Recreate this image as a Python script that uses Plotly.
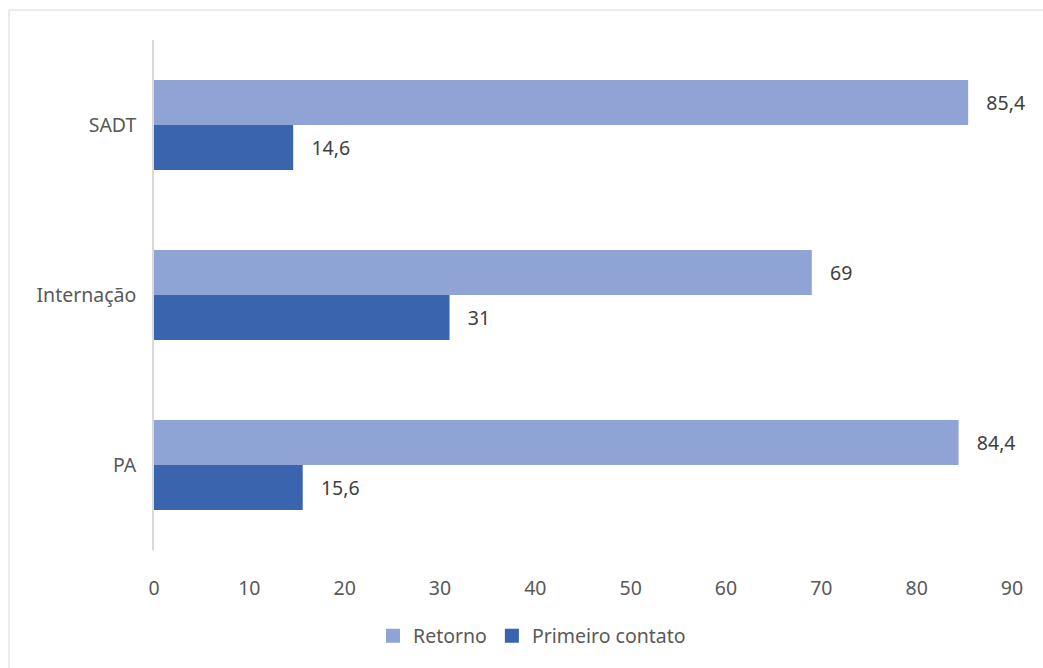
import plotly.graph_objects as go

categories = ["PA", "Internação", "SADT"]
retorno = [84.4, 69, 85.4]
primeiro_contato = [15.6, 31, 14.6]
x_ticks = [0, 10, 20, 30, 40, 50, 60, 70, 80, 90]

FONT = "Noto Sans, Open Sans, sans-serif"
TXT = "#595959"
C_RET = "#8FA4D5"
C_PRI = "#3A64AD"
FS = 19.5

fig = go.Figure()
fig.add_trace(go.Bar(
    y=categories, x=primeiro_contato, orientation="h", name="Primeiro contato",
    marker=dict(color=C_PRI, line=dict(width=0)), showlegend=False,
    texttemplate="   %{x}", textposition="outside",
    textfont=dict(size=FS, color="#404040", family=FONT), cliponaxis=False,
))
fig.add_trace(go.Bar(
    y=categories, x=retorno, orientation="h", name="Retorno",
    marker=dict(color=C_RET, line=dict(width=0)), showlegend=False,
    texttemplate="   %{x}", textposition="outside",
    textfont=dict(size=FS, color="#404040", family=FONT), cliponaxis=False,
))

# legend swatches as square markers
for name, col in [("Retorno", C_RET), ("Primeiro contato", C_PRI)]:
    fig.add_trace(go.Scatter(
        x=[None], y=[None], mode="markers", name=name,
        marker=dict(symbol="square", size=14, color=col, line=dict(width=0)),
        showlegend=True,
    ))

W, H = 1043, 668
L, R, T, B = 154, 31, 40, 118
pw, ph = W - L - R, H - T - B

def px_x(p):
    return (p - L) / pw

def px_y(p):
    return (H - B - p) / ph

fig.add_shape(type="rect", xref="paper", yref="paper",
              x0=px_x(9), x1=px_x(1060), y0=px_y(680), y1=px_y(10),
              line=dict(color="#D9D9D9", width=1), fillcolor="rgba(0,0,0,0)", layer="below")

fig.update_layout(
    width=W, height=H,
    margin=dict(l=L, r=R, t=T, b=B, autoexpand=False),
    paper_bgcolor="white", plot_bgcolor="white",
    barmode="group", bargap=0.47, bargroupgap=0,
    separators=",.",
    font=dict(family=FONT, size=FS, color=TXT),
    showlegend=True,
    legend=dict(orientation="h", x=px_x(532), xanchor="center", y=px_y(636), yanchor="middle",
                font=dict(size=FS, color=TXT), itemwidth=30, tracegroupgap=0),
    xaxis=dict(range=[0, 90], tickvals=x_ticks, showgrid=False, zeroline=False,
               showline=False, ticks="", ticklabelstandoff=24,
               tickfont=dict(size=FS, color=TXT)),
    yaxis=dict(range=[-0.5, 2.5], showgrid=False, zeroline=False, showline=True,
               linecolor="#D9D9D9", linewidth=1.5, ticks="", ticklabelstandoff=12,
               tickfont=dict(size=FS, color=TXT)),
)

fig.write_html("out.html")
